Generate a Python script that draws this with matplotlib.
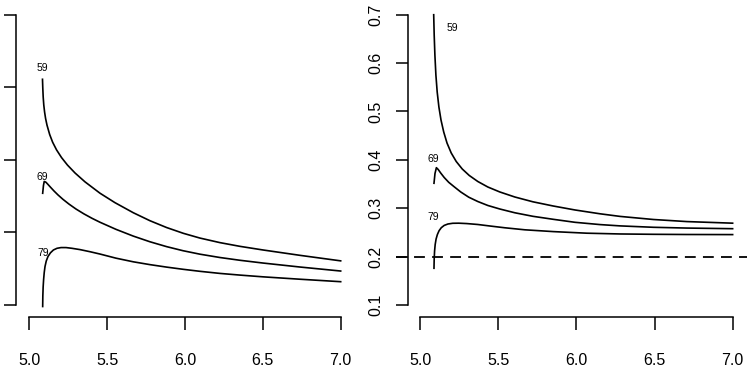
import matplotlib.pyplot as plt

plt.rcParams['font.family'] = ['Liberation Sans', 'DejaVu Sans']

# left panel (y axis in tick units, its labels are cut off in the source)
left_x_59 = [5.0848, 5.0867, 5.0893, 5.0931, 5.0983, 5.1047, 5.1137, 5.131, 5.150, 5.175, 5.207, 5.245,
             5.294, 5.358, 5.454, 5.550, 5.668, 5.775, 5.882, 5.990, 6.096, 6.225, 6.353, 6.501, 6.739, 7.0]
left_y_59 = [3.109, 2.989, 2.865, 2.755, 2.658, 2.569, 2.478, 2.348, 2.242, 2.137, 2.031, 1.928,
             1.818, 1.696, 1.540, 1.410, 1.271, 1.161, 1.067, 0.987, 0.922, 0.859, 0.808, 0.758, 0.684, 0.608]

left_x_69 = [5.086, 5.091, 5.096, 5.107, 5.120, 5.136, 5.159, 5.184, 5.216, 5.255, 5.300, 5.351, 5.403,
             5.454, 5.557, 5.668, 5.775, 5.882, 5.987, 6.096, 6.225, 6.353, 6.501, 6.739, 7.0]
left_y_69 = [1.539, 1.646, 1.702, 1.691, 1.661, 1.623, 1.570, 1.517, 1.456, 1.390, 1.322, 1.255, 1.194,
             1.140, 1.042, 0.949, 0.871, 0.804, 0.748, 0.700, 0.654, 0.616, 0.578, 0.523, 0.468]

left_x_79 = [5.086, 5.087, 5.089, 5.092, 5.096, 5.101, 5.109, 5.120, 5.136, 5.155, 5.178, 5.204, 5.236, 5.274,
             5.326, 5.390, 5.454, 5.557, 5.668, 5.775, 5.882, 5.987, 6.096, 6.225, 6.353, 6.501, 6.739, 7.0]
left_y_79 = [-0.021, 0.124, 0.248, 0.351, 0.448, 0.530, 0.606, 0.668, 0.719, 0.758, 0.781, 0.791, 0.791, 0.781,
             0.763, 0.734, 0.702, 0.645, 0.595, 0.556, 0.522, 0.492, 0.464, 0.435, 0.412, 0.388, 0.355, 0.321]

left_yticks = [0, 1, 2, 3, 4]

# right panel
right_x_59 = [5.0854, 5.0886, 5.0931, 5.0995, 5.1078, 5.1187, 5.1322, 5.1496, 5.1707, 5.1977, 5.2298,
              5.2683, 5.3132, 5.3678, 5.4320, 5.5090, 5.6053, 5.7208, 5.8511, 5.9904, 6.1508, 6.2792,
              6.4929, 6.7073, 7.0]
right_y_59 = [0.7000, 0.6581, 0.6167, 0.5754, 0.5403, 0.5093, 0.4824, 0.4576, 0.4348, 0.4142, 0.3966,
              0.3811, 0.3677, 0.3553, 0.3439, 0.3336, 0.3232, 0.3133, 0.3046, 0.2964, 0.2885, 0.2831,
              0.2767, 0.2724, 0.2691]

right_x_69 = [5.0873, 5.0937, 5.1027, 5.1142, 5.1303, 5.1528, 5.1816, 5.2169, 5.2587, 5.3100, 5.3678,
              5.4320, 5.5090, 5.6053, 5.7208, 5.8511, 5.9904, 6.1508, 6.2792, 6.4929, 6.7073, 7.0]
right_y_69 = [0.3516, 0.3718, 0.3838, 0.3801, 0.3728, 0.3635, 0.3536, 0.3443, 0.3336, 0.3228, 0.3139,
              0.3057, 0.2984, 0.2906, 0.2833, 0.2771, 0.2709, 0.2662, 0.2635, 0.2606, 0.2590, 0.2577]

right_x_79 = [5.0873, 5.0886, 5.0911, 5.0950, 5.1008, 5.1091, 5.1200, 5.1341, 5.1528, 5.1765, 5.2073,
              5.2458, 5.2972, 5.3678, 5.4448, 5.5411, 5.6694, 5.8511, 6.0655, 6.2792, 6.4929, 6.7073, 7.0]
right_y_79 = [0.1759, 0.1951, 0.2116, 0.2251, 0.2364, 0.2457, 0.2536, 0.2598, 0.2645, 0.2674, 0.2689,
              0.2691, 0.2683, 0.2664, 0.2633, 0.2596, 0.2554, 0.2517, 0.2484, 0.2468, 0.2461, 0.2457, 0.2455]

right_yticks = [0.1, 0.2, 0.3, 0.4, 0.5, 0.6, 0.7]
xticks = [5.0, 5.5, 6.0, 6.5, 7.0]
ref_level = 0.2


def style_axes(ax, yticks, spine_x, show_ylabels):
    for side in ['top', 'right']:
        ax.spines[side].set_visible(False)
    ax.spines['left'].set_position(('data', spine_x))
    ax.spines['left'].set_bounds(yticks[0], yticks[-1])
    ax.spines['bottom'].set_position(('outward', 3.6))
    ax.spines['bottom'].set_bounds(xticks[0], xticks[-1])
    for side in ['left', 'bottom']:
        ax.spines[side].set_linewidth(1.1)
    ax.set_xticks(xticks)
    ax.set_xticklabels(['%.1f' % v for v in xticks])
    ax.set_yticks(yticks)
    if show_ylabels:
        ax.set_yticklabels(['%.1f' % v for v in yticks], va='center')
    ax.tick_params(axis='both', direction='out', length=9, width=1.1, labelsize=11.5)
    ax.tick_params(axis='x', pad=17)
    ax.tick_params(axis='y', pad=9, labelrotation=90, labelleft=show_ylabels)
    ax.patch.set_visible(False)


fig = plt.figure(figsize=(7.5, 3.7), dpi=100)

ax1 = fig.add_axes([5 / 750, 58 / 370, 350 / 750, 304 / 370])
ax1.plot(left_x_59, left_y_59, color='black', lw=1.2)
ax1.plot(left_x_69, left_y_69, color='black', lw=1.2)
ax1.plot(left_x_79, left_y_79, color='black', lw=1.2)
ax1.set_xlim(4.844, 7.092)
ax1.set_ylim(-0.0964, 4.091)
ax1.text(5.086, 3.26, '59', fontsize=7.5, ha='center', va='center')
ax1.text(5.086, 1.767, '69', fontsize=7.5, ha='center', va='center')
ax1.text(5.09, 0.712, '79', fontsize=7.5, ha='center', va='center')
style_axes(ax1, left_yticks, 4.9146, False)

ax2 = fig.add_axes([396 / 750, 58 / 370, 351 / 750, 304 / 370])
ax2.plot(right_x_59, right_y_59, color='black', lw=1.2)
ax2.plot(right_x_69, right_y_69, color='black', lw=1.2)
ax2.plot(right_x_79, right_y_79, color='black', lw=1.2)
ax2.axhline(ref_level, color='black', lw=1.3, dashes=(6, 4))
ax2.set_xlim(4.844, 7.092)
ax2.set_ylim(0.0855, 0.7139)
ax2.text(5.203, 0.6732, '59', fontsize=7.5, ha='center', va='center')
ax2.text(5.085, 0.4012, '69', fontsize=7.5, ha='center', va='center')
ax2.text(5.085, 0.2813, '79', fontsize=7.5, ha='center', va='center')
style_axes(ax2, right_yticks, 4.9204, True)

fig.savefig('out.png', dpi=100)
